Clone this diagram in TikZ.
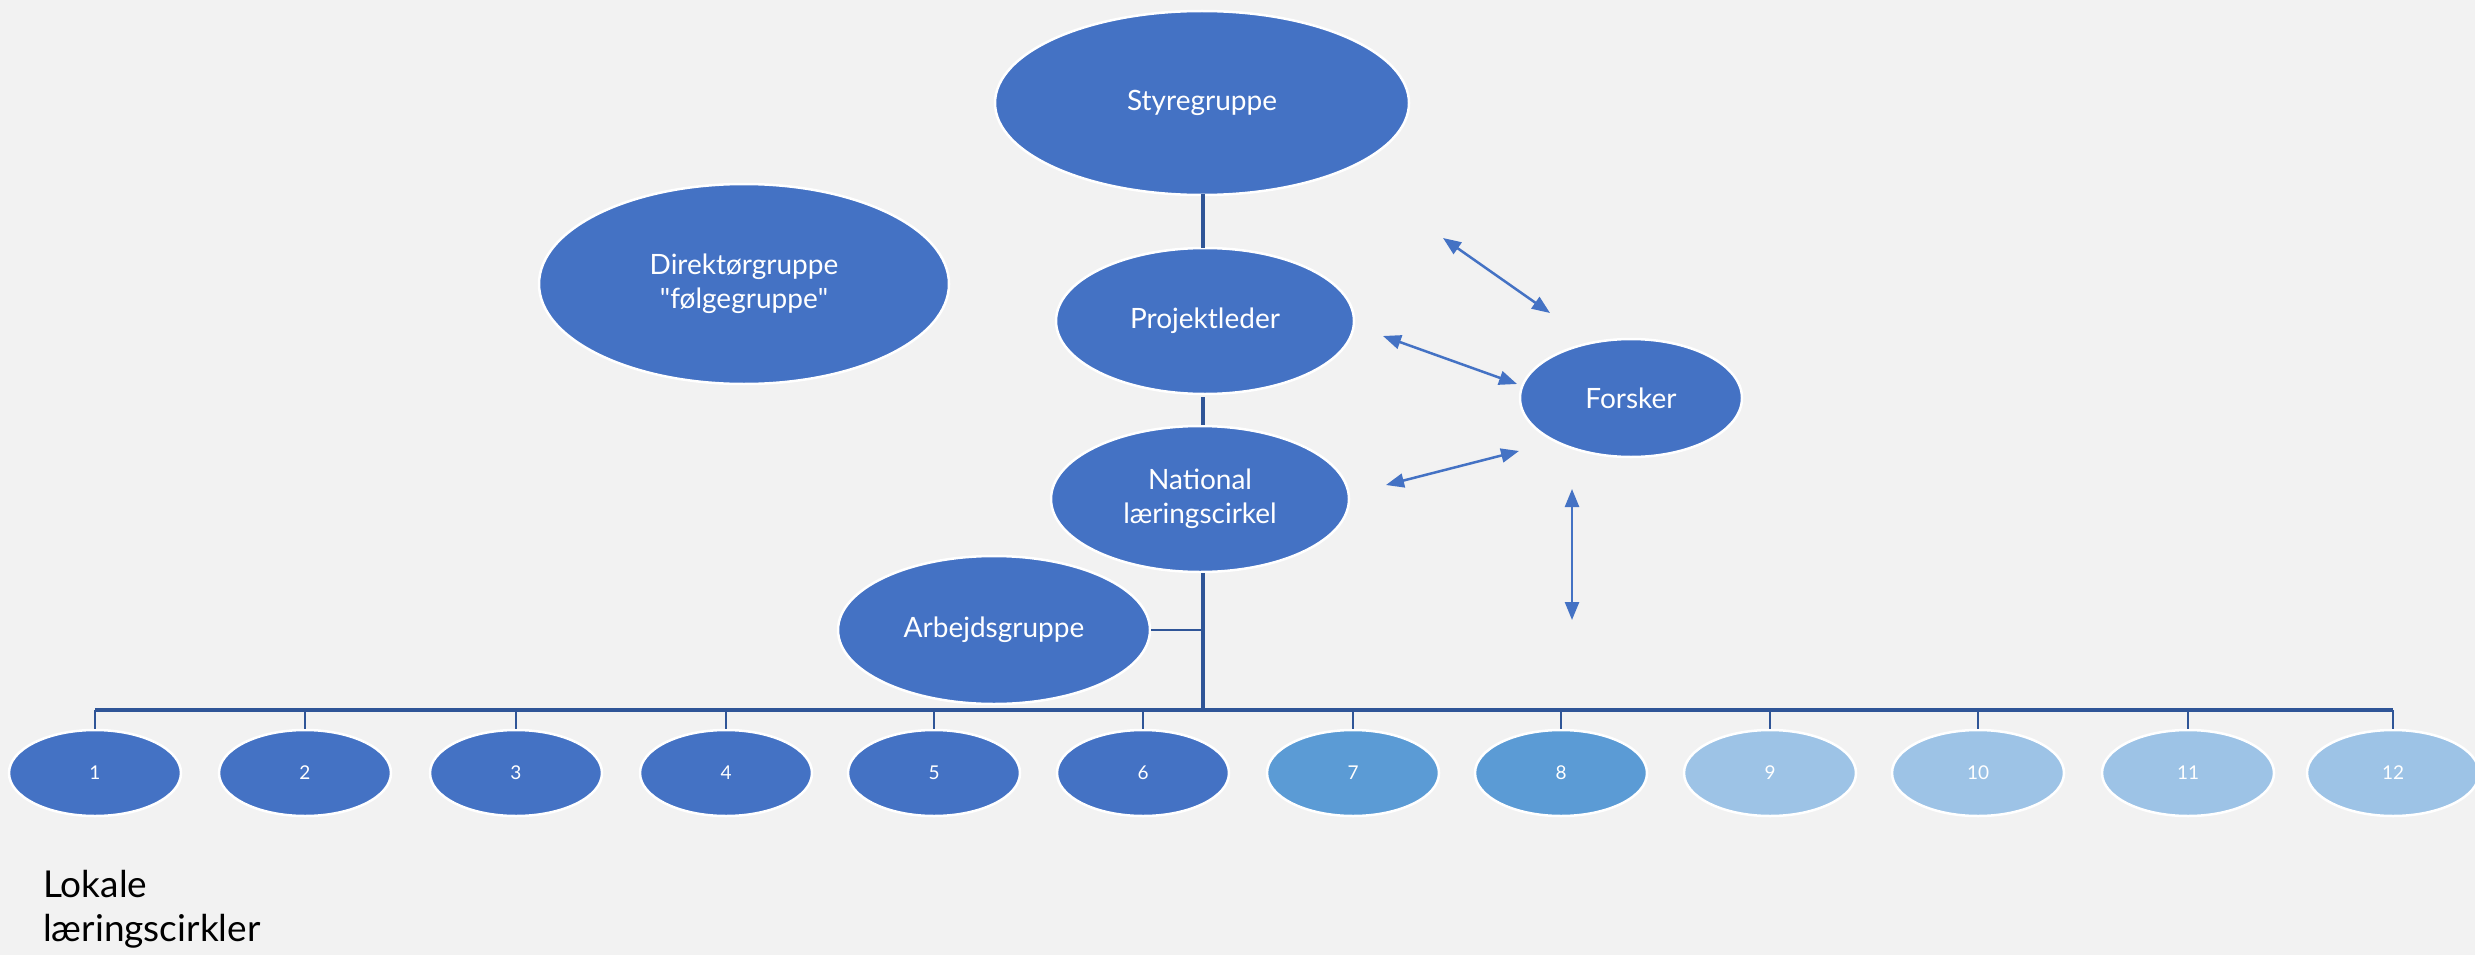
\documentclass[tikz,border=0pt]{standalone}
\usepackage{fontspec}
\setmainfont{Lato}
\newfontfamily\qfont{Lato}[Ligatures=ResetAll]
\usetikzlibrary{shapes.geometric,arrows.meta}
\definecolor{bg}{HTML}{F2F2F2}
\definecolor{mainblue}{HTML}{4472C4}
\definecolor{midblue}{HTML}{5B9BD5}
\definecolor{lightblue}{HTML}{9DC3E6}
\definecolor{linec}{HTML}{2F5597}
\definecolor{arrowc}{HTML}{4472C4}
\begin{document}
\begin{tikzpicture}[x=1pt,y=-1pt,
  oval/.style={ellipse,draw=white,line width=2.5pt,fill=mainblue,text=white,inner sep=0pt,align=center,font=\fontsize{28}{34}\selectfont},
  small/.style={ellipse,draw=white,line width=2.5pt,fill=mainblue,text=white,inner sep=0pt,minimum width=172pt,minimum height=86pt,font=\fontsize{19}{22}\selectfont},
  tree/.style={draw=linec,line width=3.5pt},
  drop/.style={draw=linec,line width=2pt},
  biarrow/.style={draw=arrowc,line width=2.5pt,{Triangle[length=18pt,width=14pt]}-{Triangle[length=18pt,width=14pt]}}
]
\fill[bg] (0,0) rectangle (2475,955);
\useasboundingbox (0,0) rectangle (2475,955);

\node[oval,minimum width=414pt,minimum height=184pt] (sty) at (1202,103) {Styregruppe};
\node[oval,minimum width=410pt,minimum height=200pt] (dir) at (744,284) {Direktørgruppe\\{\qfont"}følgegruppe{\qfont"}};
\node[oval,minimum width=298pt,minimum height=146pt] (pro) at (1205,321) {Projektleder};
\node[oval,minimum width=298pt,minimum height=146pt] (nat) at (1200,499) {National\\læringscirkel};
\node[oval,minimum width=312pt,minimum height=148pt] (arb) at (994,630) {Arbejdsgruppe};
\node[oval,minimum width=222pt,minimum height=118pt] (for) at (1631,398) {Forsker};

\foreach \i/\x/\c in {1/95/mainblue,2/305/mainblue,3/516/mainblue,4/726/mainblue,5/934/mainblue,6/1143/mainblue,7/1353/midblue,8/1561/midblue,9/1770/lightblue,10/1978/lightblue,11/2188/lightblue,12/2393/lightblue}{
  \node[small,fill=\c] (c\i) at (\x,773) {\i};
}

\coordinate (bus) at (1203,710);
\coordinate (t1) at (1203,194);
\coordinate (t2) at (1203,248);
\coordinate (t3) at (1203,397);
\coordinate (t4) at (1203,425);
\coordinate (t5) at (1203,573);
\path[tree] (t1) -- (t2);
\path[tree] (t3) -- (t4);
\path[tree] (t5) -- (bus);
\coordinate (aj) at (1203,630);
\path[drop] (arb.east) -- (aj);
\path[tree] (c1.north |- bus) -- (c12.north |- bus);
\foreach \i in {1,...,12}{
  \path[drop] (c\i.north |- bus) -- (c\i.north);
}

\coordinate (a1s) at (1443,238); \coordinate (a1e) at (1550,313);
\coordinate (a2s) at (1383,336); \coordinate (a2e) at (1517,384);
\coordinate (a3s) at (1386,485); \coordinate (a3e) at (1519,451);
\coordinate (a4s) at (1572,489); \coordinate (a4e) at (1572,620);
\path[biarrow] (a1s) -- (a1e);
\path[biarrow] (a2s) -- (a2e);
\path[biarrow] (a3s) -- (a3e);
\path[biarrow] (a4s) -- (a4e);

\node[anchor=north west,align=left,inner sep=0pt,font=\fontsize{37}{44}\selectfont] (lok) at (43,870) {Lokale\\læringscirkler};
\end{tikzpicture}
\end{document}
